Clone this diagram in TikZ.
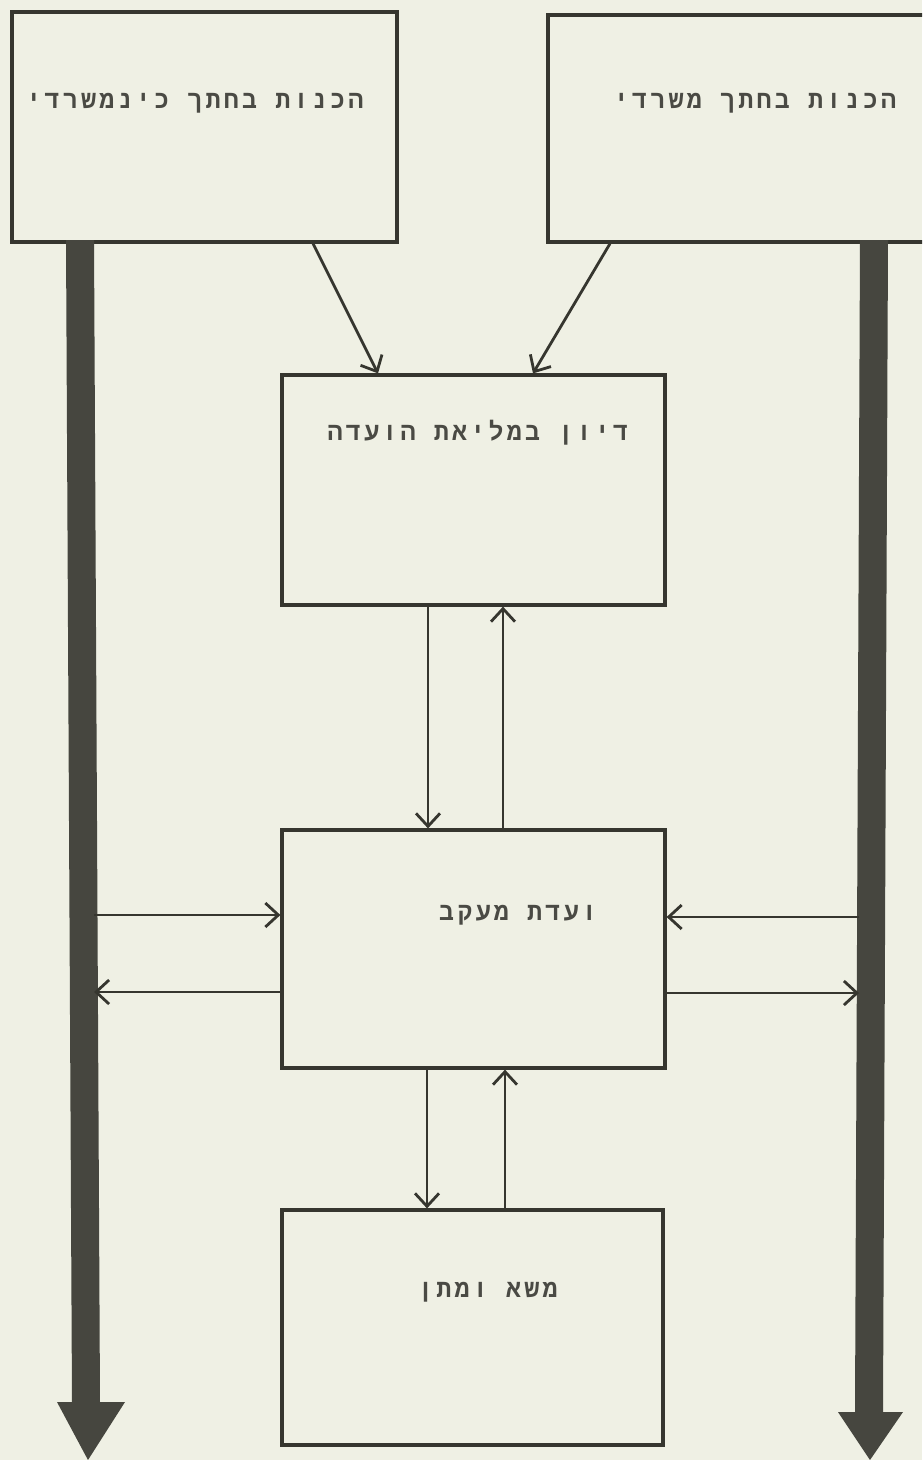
\documentclass[tikz,border=0pt]{standalone}
\usepackage{fontspec}
\newfontfamily\hebfont[Script=Hebrew,LetterSpace=13]{Liberation Mono}
\TeXXeTstate=1
\usetikzlibrary{arrows.meta}
\definecolor{paper}{HTML}{EFF0E4}
\definecolor{ink}{HTML}{36362F}
\definecolor{barc}{HTML}{46463F}
\begin{document}
\begin{tikzpicture}[x=1pt,y=-1pt,
 box/.style={draw=ink, line width=3.2pt, inner sep=0pt},
 lbl/.style={text=ink!90, font=\hebfont\bfseries\fontsize{25}{29}\selectfont, inner sep=0pt},
 conn/.style={draw=ink, line width=2.8pt, -{Straight Barb[length=13pt,width=24pt,line width=2.8pt]}},
 thick arrow/.style={fill=barc}]
\fill[paper] (0,0) rectangle (922,1460);
\useasboundingbox (0,0) rectangle (922,1460);
\clip (0,0) rectangle (922,1460);

% boxes
\node[box, minimum width=385pt, minimum height=230pt] (A) at (204.5,127) {};
\node[box, minimum width=392pt, minimum height=227pt] (B) at (744,128.5) {};
\node[box, minimum width=383pt, minimum height=230pt] (D) at (473.5,490) {};
\node[box, minimum width=383pt, minimum height=238pt] (V) at (473.5,949) {};
\node[box, minimum width=381pt, minimum height=235pt] (M) at (472.5,1327.5) {};

% labels
\node[lbl] (tA) at (195,103) {\beginR הכנות בחתך כינמשרדי\endR};
\node[lbl] (tB) at (755,103) {\beginR הכנות בחתך משרדי\endR};
\node[lbl] (tD) at (478,433) {\beginR דיון במליאת הועדה\endR};
\node[lbl] (tV) at (518,915) {\beginR ועדת מעקב\endR};
\node[lbl] (tM) at (488,1292) {\beginR משא ומתן\endR};

% thick side arrows
\fill[thick arrow] (66,240) -- (94,240) -- (100,1402) -- (125,1402) -- (88,1460) -- (57,1402) -- (72,1402) -- cycle;
\fill[thick arrow] (860,240) -- (888,240) -- (883,1412) -- (903,1412) -- (870,1460) -- (838,1412) -- (855,1412) -- cycle;
\coordinate (Lbar) at (94,0);
\coordinate (Rbar) at (859,0);

% connectors
\draw[conn] ([xshift=108.5pt]A.south) -- ([xshift=-95.5pt]D.north);
\draw[conn] ([xshift=-134pt]B.south) -- ([xshift=59.5pt]D.north);
\draw[conn] ([xshift=-45.5pt]D.south) -- ([xshift=-45.5pt]V.north);
\draw[conn] ([xshift=29.5pt]V.north) -- ([xshift=29.5pt]D.south);
\draw[conn] ([xshift=-46.5pt]V.south) -- ([xshift=-45.5pt]M.north);
\draw[conn] ([xshift=32.5pt]M.north) -- ([xshift=31.5pt]V.south);

\coordinate (Vw1) at ([yshift=34pt]V.west);
\coordinate (Vw2) at ([yshift=-43pt]V.west);
\coordinate (Ve1) at ([yshift=32pt]V.east);
\coordinate (Ve2) at ([yshift=-44pt]V.east);
\draw[conn] (Lbar |- Vw1) -- (Vw1);
\draw[conn] (Vw2) -- (Lbar |- Vw2);
\draw[conn] (Rbar |- Ve1) -- (Ve1);
\draw[conn] (Ve2) -- (Rbar |- Ve2);
\end{tikzpicture}
\end{document}
